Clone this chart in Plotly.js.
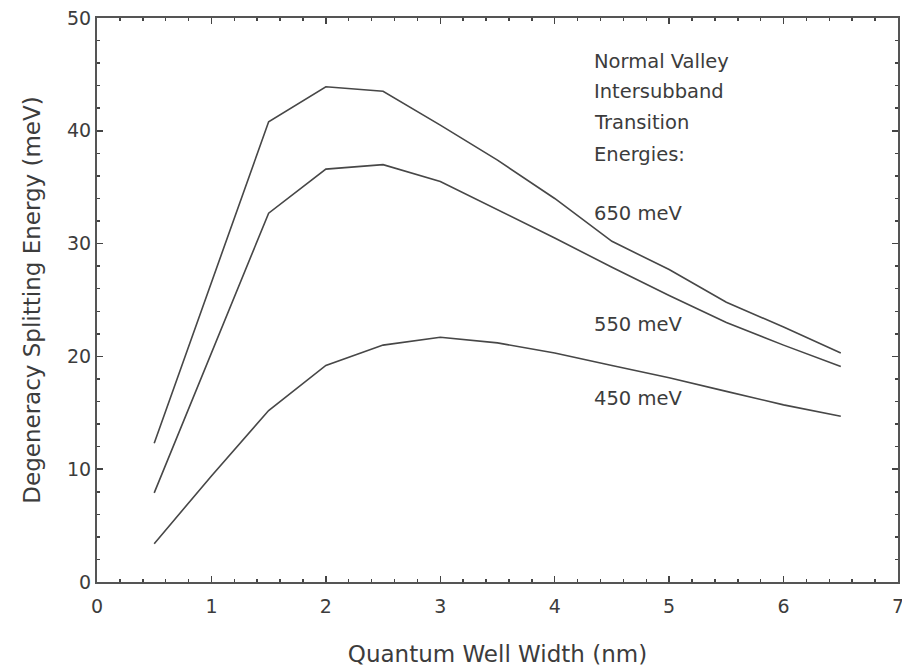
<!DOCTYPE html>
<html>
<head>
<meta charset="utf-8">
<script src="https://cdn.plot.ly/plotly-3.0.1.min.js"></script>
<style>
  html, body { margin: 0; padding: 0; background: #fff; }
  #chart { width: 902px; height: 670px; }
</style>
</head>
<body>
<div id="chart"></div>
<script>
// Quantum well widths (nm)
const wellWidth = [0.5, 1.5, 2, 2.5, 3, 3.5, 4, 4.5, 5, 5.5, 6, 6.5];

// Degeneracy splitting energy (meV) for each intersubband transition energy
const split650 = [12.3, 40.8, 43.9, 43.5, 40.5, 37.4, 34.0, 30.2, 27.7, 24.8, 22.6, 20.3];
const split550 = [7.9, 32.7, 36.6, 37.0, 35.5, 33.0, 30.5, 27.9, 25.4, 23.0, 21.0, 19.1];
const wellWidth450 = [0.5, 1, 1.5, 2, 2.5, 3, 3.5, 4, 4.5, 5, 5.5, 6, 6.5];
const split450 = [3.4, 9.4, 15.2, 19.2, 21.0, 21.7, 21.2, 20.3, 19.2, 18.1, 16.9, 15.7, 14.7];

// Axis ticks
const xTicks = [0, 1, 2, 3, 4, 5, 6, 7];
const yTicks = [0, 10, 20, 30, 40, 50];

// Text labels placed inside the plot
const noteLines = ["Normal Valley", "Intersubband", "Transition", "Energies:"];
const noteY = [46.1, 43.45, 40.7, 37.9];
const curveLabels = ["650 meV", "550 meV", "450 meV"];
const curveLabelY = [32.7, 22.8, 16.3];
const labelX = 4.33;

const FONT = "DejaVu Sans, Arial, sans-serif";
const INK = "#3c3c3c";
const lineStyle = { color: "#474747", width: 1.6 };

const traces = [
  { x: wellWidth, y: split650, mode: "lines", line: lineStyle, hoverinfo: "skip" },
  { x: wellWidth, y: split550, mode: "lines", line: lineStyle, hoverinfo: "skip" },
  { x: wellWidth450, y: split450, mode: "lines", line: lineStyle, hoverinfo: "skip" }
];

const annotations = [];
noteLines.forEach((t, i) => annotations.push({
  x: labelX, y: noteY[i], xref: "x", yref: "y", text: t, showarrow: false,
  xanchor: "left", yanchor: "middle", font: { family: FONT, size: 19.5, color: INK }
}));
curveLabels.forEach((t, i) => annotations.push({
  x: labelX, y: curveLabelY[i], xref: "x", yref: "y", text: t, showarrow: false,
  xanchor: "left", yanchor: "middle", font: { family: FONT, size: 19.5, color: INK }
}));

const axisCommon = {
  showline: true, linecolor: "#555", linewidth: 2, mirror: "allticks",
  ticks: "inside", ticklen: 6, tickwidth: 1.5, tickcolor: "#444",
  showgrid: false, zeroline: false, tickmode: "array",
  ticklabeloverflow: "allow",
  tickfont: { family: FONT, size: 19, color: INK }
};

const layout = {
  width: 902, height: 670,
  margin: { l: 97, r: 4, t: 18, b: 88 },
  paper_bgcolor: "#fff", plot_bgcolor: "#fff",
  showlegend: false,
  xaxis: Object.assign({}, axisCommon, {
    range: [0, 7], tickvals: xTicks, ticktext: xTicks.map(String),
    ticklabelstandoff: 6,
    minor: { dtick: 0.2, tick0: 0, ticks: "inside", ticklen: 3, tickwidth: 1.5, tickcolor: "#444", showgrid: false },
    title: { text: "Quantum Well Width (nm)", font: { family: FONT, size: 23, color: INK }, standoff: 30 }
  }),
  yaxis: Object.assign({}, axisCommon, {
    range: [0, 50], tickvals: yTicks, ticktext: yTicks.map(String),
    minor: { dtick: 2, tick0: 0, ticks: "inside", ticklen: 3, tickwidth: 1.5, tickcolor: "#444", showgrid: false },
    title: { text: "Degeneracy Splitting Energy (meV)", font: { family: FONT, size: 23, color: INK }, standoff: 20 }
  }),
  annotations: annotations
};

Plotly.newPlot("chart", traces, layout, { staticPlot: true, displayModeBar: false });
</script>
</body>
</html>
